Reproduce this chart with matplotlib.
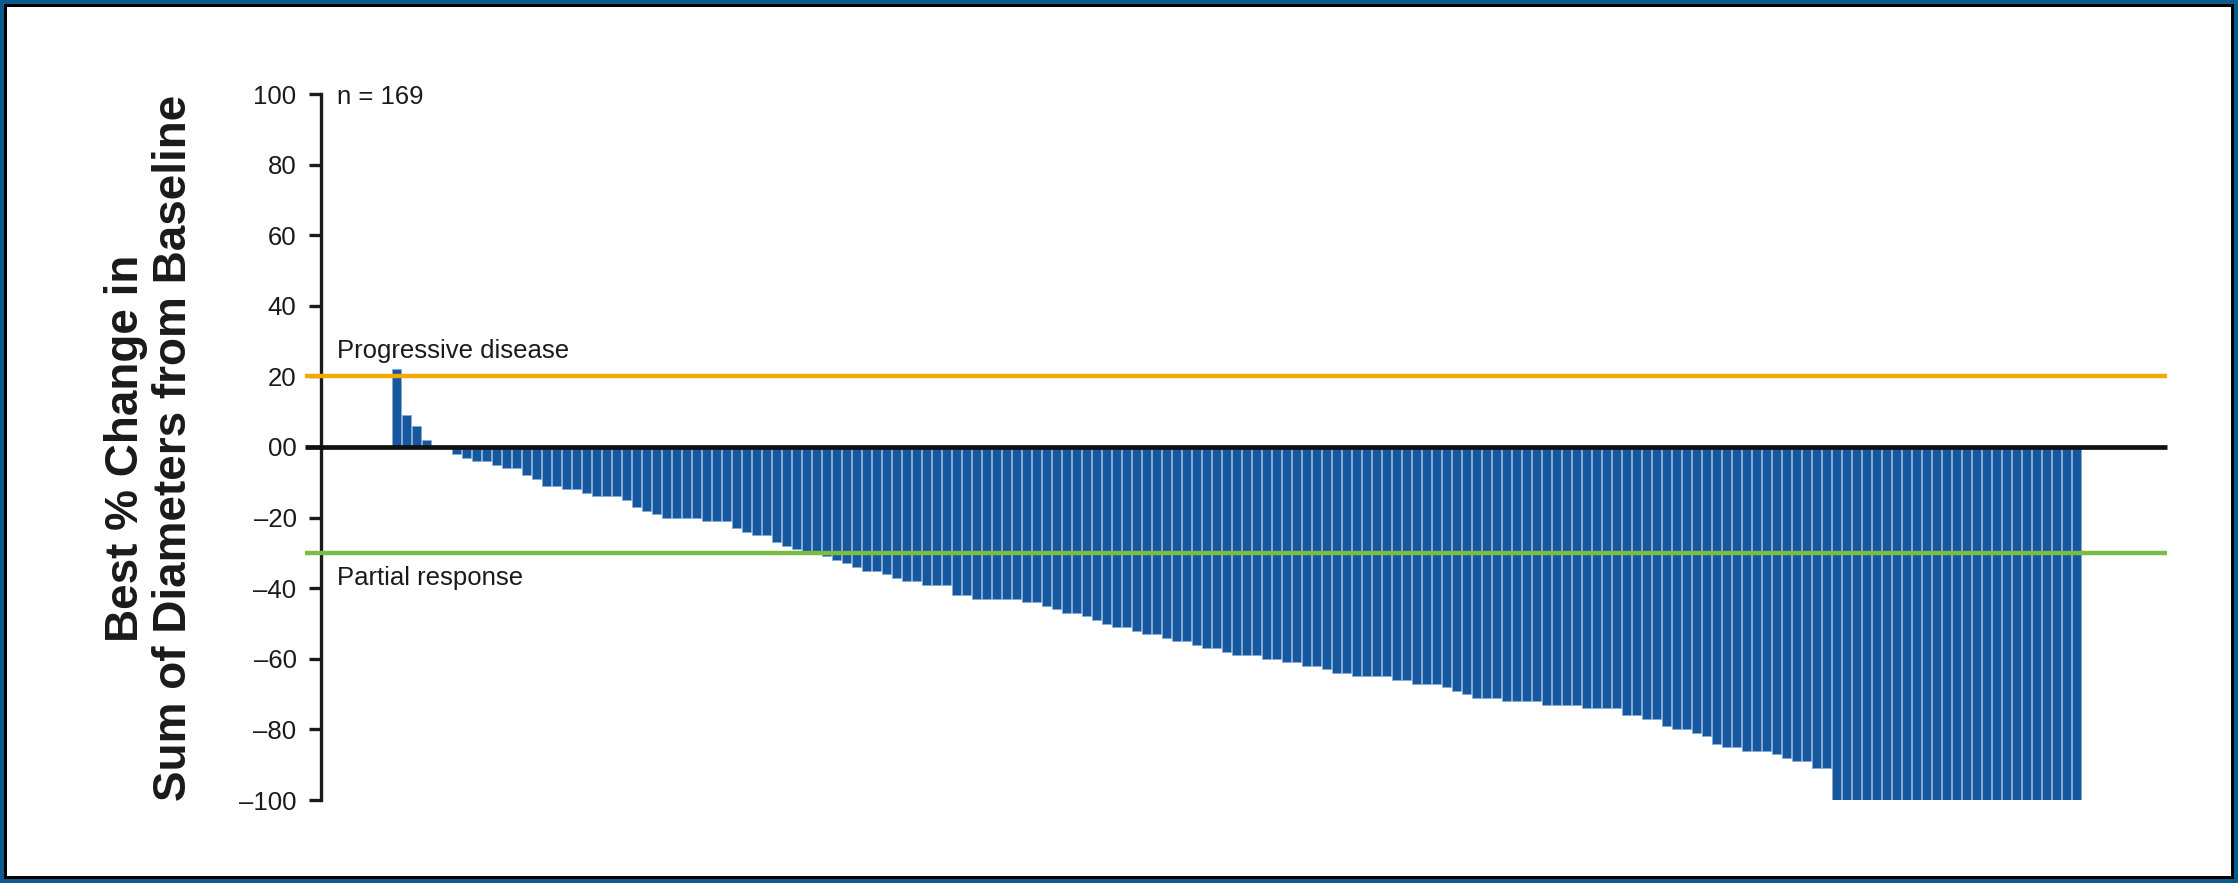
import matplotlib
matplotlib.use("Agg")
import matplotlib.pyplot as plt
from matplotlib.patches import Rectangle

plt.rcParams['font.family'] = ['Liberation Sans', 'DejaVu Sans']

# Best % change in sum of target-lesion diameters, one value per patient (sorted)
best_change = [
    22, 9, 6, 2, 0, 0,
    -2, -3, -4, -4, -5, -6, -6, -8, -9, -11, -11, -12, -12, -13, -14, -14, -14,
    -15, -17, -18, -19,
    -20, -20, -20, -20, -21, -21, -21,
    -23, -24, -25, -25, -27, -28, -29, -30, -30, -31, -32, -33, -34, -35, -35,
    -36, -37, -38, -38, -39, -39, -39,
    -42, -42, -43, -43, -43, -43, -43,
    -44, -44, -45, -46, -47, -47, -48, -49, -50, -51, -51, -52, -53, -53, -54,
    -55, -55, -56, -57, -57, -58,
    -59, -59, -59, -60, -60, -61, -61, -62, -62, -63, -64, -64, -65, -65, -65,
    -65, -66, -66, -67, -67, -67,
    -68, -69, -70, -71, -71, -71, -72, -72, -72, -72, -73, -73, -73, -73,
    -74, -74, -74, -74,
    -76, -76, -77, -77, -79, -80, -80, -81, -82, -84, -85, -85, -86, -86, -86,
    -87, -88, -89, -89, -91, -91,
    -100, -100, -100, -100, -100, -100, -100, -100, -100, -100, -100, -100, -100,
    -100, -100, -100, -100, -100, -100, -100, -100, -100, -100, -100, -100,
]
n_patients = len(best_change)

progression_threshold = 20
response_threshold = -30

ytick_values = [100, 80, 60, 40, 20, 0, -20, -40, -60, -80, -100]
ytick_labels = ['100', '80', '60', '40', '20', '00', '\u201320', '\u201340',
                '\u201360', '\u201380', '\u2013100']

ylabel_line1 = "Best % Change in"
ylabel_line2 = "Sum of Diameters from Baseline"

BAR_BLUE = '#1558a0'
BAR_EDGE = '#86a9d6'
ORANGE = '#f2a900'
GREEN = '#79be43'
FRAME_BLUE = '#0d5a8e'

W, H, DPI = 2238, 883, 100
fig = plt.figure(figsize=(W / DPI, H / DPI), dpi=DPI)
fig.patch.set_facecolor('white')

# Slide-style frame: blue outer band, thin black rule, white panel
def px_rect(inset, color, z):
    fig.add_artist(Rectangle((inset / W, inset / H), 1 - 2 * inset / W, 1 - 2 * inset / H,
                             transform=fig.transFigure, facecolor=color,
                             edgecolor='none', zorder=z))

px_rect(0, FRAME_BLUE, -3)
px_rect(4, 'black', -2)
px_rect(7, 'white', -1)

# Axes placement (pixel layout of the panel)
ax_left, ax_right = 320.7, 2167.0
ax_top, ax_bottom = 94.0, 800.0
ax = fig.add_axes([ax_left / W, 1 - ax_bottom / H,
                   (ax_right - ax_left) / W, (ax_bottom - ax_top) / H])
ax.patch.set_alpha(0)

first_center = 396.7
x = list(range(n_patients))
ax.bar(x, best_change, width=0.88, color=BAR_BLUE, edgecolor=BAR_EDGE,
       linewidth=0.5, zorder=2)

x_lo = (ax_left - first_center) / 10.0
x_hi = (ax_right - first_center) / 10.0
ax.set_xlim(x_lo, x_hi)
ax.set_ylim(-100, 100)

line_start = (304.5 - first_center) / 10.0
ax.plot([line_start, x_hi], [progression_threshold] * 2, color=ORANGE, lw=3.2,
        solid_capstyle='butt', clip_on=False, zorder=3)
ax.plot([line_start, x_hi], [response_threshold] * 2, color=GREEN, lw=3.2,
        solid_capstyle='butt', clip_on=False, zorder=3)
ax.plot([line_start, x_hi], [0, 0], color='#111111', lw=3.4,
        solid_capstyle='butt', clip_on=False, zorder=4)

for side in ('top', 'right', 'bottom'):
    ax.spines[side].set_visible(False)
ax.spines['left'].set_linewidth(2.4)
ax.spines['left'].set_color('#1a1a1a')
ax.spines['left'].set_capstyle('projecting')

ax.set_xticks([])
ax.set_yticks(ytick_values)
ax.set_yticklabels(ytick_labels)
ax.tick_params(axis='y', direction='out', length=8.6, width=2.4, pad=8.8,
               labelsize=18.5, color='#1a1a1a', labelcolor='#1a1a1a')

text_x = (336.7 - first_center) / 10.0
ax.text(text_x, 97.25, "n = 169", fontsize=18.5, ha='left', va='baseline',
        color='#1a1a1a')
ax.text(text_x, 25.2, "Progressive disease", fontsize=18.5, ha='left',
        va='baseline', color='#1a1a1a')
ax.text(text_x, -39.05, "Partial response", fontsize=18.5, ha='left',
        va='baseline', color='#1a1a1a')

# Two-line rotated y-axis title
ycenter = 1 - 448 / H
fig.text(138 / W, ycenter, ylabel_line1, rotation=90, rotation_mode='anchor',
         ha='center', va='baseline', fontsize=33, fontweight='bold',
         color='#1a1a1a')
fig.text(186 / W, ycenter, ylabel_line2, rotation=90, rotation_mode='anchor',
         ha='center', va='baseline', fontsize=33, fontweight='bold',
         color='#1a1a1a')

fig.savefig('out.png', dpi=DPI, facecolor='white')
